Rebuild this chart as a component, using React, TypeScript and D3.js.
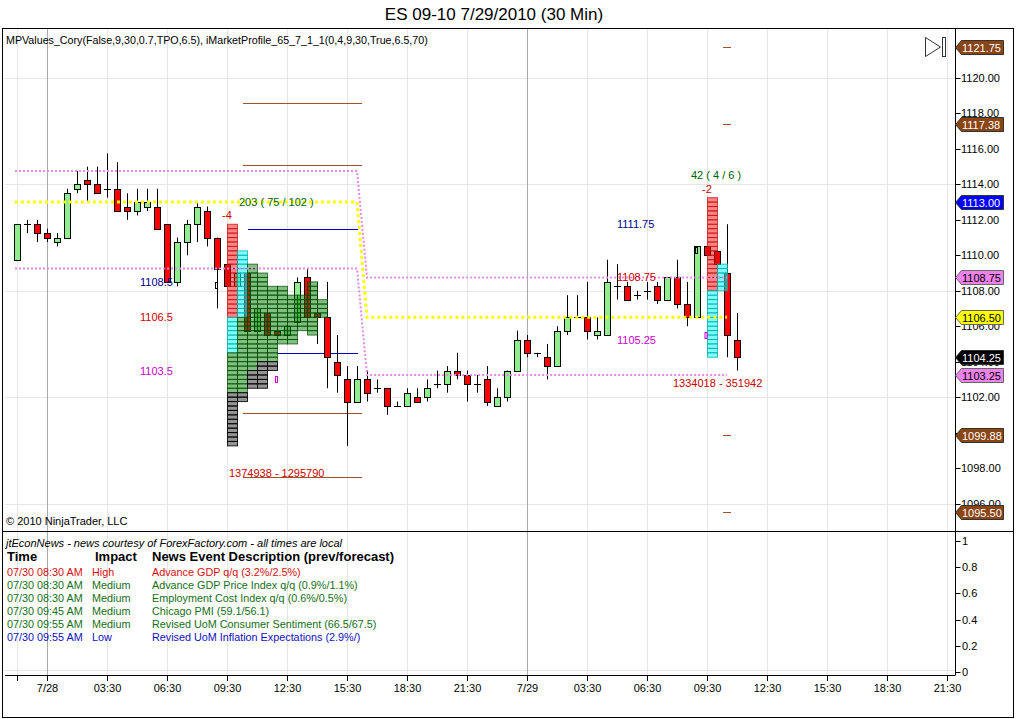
import React from 'react';
import * as d3 from 'd3';

// ---------- DATA ----------
const candleOpen = [1109.75,1111.75,1111.75,1111.25,1110.75,1111.0,1113.75,1114.25,1114.0,1113.75,1113.75,1112.75,1112.5,1112.75,1112.75,1111.75,1108.5,1110.75,1111.75,1112.5,1111.0,1109.5,1108.25,1109.0,1105.75,1106.75,1105.75,1105.5,1106.25,1108.75,1106.75,1106.5,1104.0,1103.0,1101.75,1103.0,1102.5,1102.5,1101.5,1101.5,1102.0,1102.0,1102.75,1102.75,1103.5,1103.25,1102.75,1103.0,1101.5,1102.0,1103.5,1105.25,1104.5,1104.25,1103.75,1105.75,1106.5,1106.5,1105.5,1105.5,1108.25,1108.25,1107.75,1108.0,1108.25,1107.5,1108.75,1107.25,1106.5,1110.5,1110.25,1109.0,1105.25];
const candleHigh = [1111.75,1112.0,1112.0,1111.5,1111.25,1113.75,1114.75,1115.0,1115.0,1115.75,1115.25,1113.5,1113.75,1113.75,1113.75,1111.75,1111.0,1112.0,1113.0,1112.75,1111.0,1109.5,1109.0,1109.0,1107.0,1106.75,1105.75,1106.0,1108.75,1109.25,1108.5,1108.5,1105.5,1103.75,1103.75,1103.5,1103.0,1102.5,1101.75,1102.5,1102.5,1103.0,1103.5,1103.75,1104.5,1103.5,1103.25,1103.75,1102.5,1103.5,1105.75,1105.5,1104.5,1105.0,1106.0,1107.75,1107.75,1108.5,1106.5,1109.75,1109.5,1108.5,1108.0,1108.5,1108.5,1108.75,1109.75,1108.5,1110.5,1110.5,1110.25,1111.75,1106.75];
const candleLow = [1109.75,1111.25,1110.75,1110.75,1110.5,1111.0,1113.5,1113.0,1113.5,1113.25,1112.5,1112.0,1112.25,1112.5,1111.5,1108.5,1108.25,1110.0,1110.75,1110.5,1107.0,1108.25,1108.25,1105.75,1105.75,1105.5,1105.5,1105.5,1106.25,1106.5,1105.0,1102.5,1102.25,1099.25,1101.75,1101.75,1102.25,1101.0,1101.5,1101.5,1101.75,1101.75,1102.5,1102.25,1103.0,1101.75,1102.25,1101.5,1101.5,1101.75,1103.5,1104.25,1104.25,1103.0,1103.75,1105.5,1106.5,1105.25,1105.25,1105.5,1107.5,1107.5,1107.5,1107.5,1107.25,1107.5,1107.0,1106.0,1106.5,1110.0,1109.5,1104.25,1103.5];
const candleClose = [1111.75,1111.75,1111.25,1111.0,1111.0,1113.5,1114.0,1114.0,1113.5,1113.75,1112.5,1112.5,1113.0,1113.0,1111.5,1108.5,1110.75,1111.75,1112.75,1111.0,1109.25,1108.25,1109.0,1105.75,1107.0,1105.5,1105.5,1106.0,1108.5,1106.5,1106.5,1104.25,1103.25,1101.75,1103.0,1102.25,1102.5,1101.5,1101.5,1102.25,1101.75,1102.5,1102.75,1103.5,1103.25,1102.75,1102.75,1101.75,1102.0,1103.5,1105.25,1104.5,1104.5,1103.75,1105.75,1106.5,1106.5,1105.75,1105.75,1108.5,1108.25,1107.5,1107.75,1108.0,1107.5,1108.75,1107.25,1106.5,1110.5,1110.0,1109.5,1105.5,1104.25];

const timeTickIndex = [0,3,9,15,21,27,33,39,45,51,57,63,69,75,81,87,93];
const timeTickLabel = ['','7/28','03:30','06:30','09:30','12:30','15:30','18:30','21:30','7/29','03:30','06:30','09:30','12:30','15:30','18:30','21:30'];
const daySeparatorIndex = [3, 51];
const priceTicks = [1096,1098,1100,1102,1104,1106,1108,1110,1112,1114,1116,1118,1120];
const priceGrid = [1096,1102,1108,1114,1120];
const lowerTicks = [0,0.2,0.4,0.6,0.8,1];
const lowerTickLabel = ['0','0.2','0.4','0.6','0.8','1'];

// value-area lines (bar index, price)
const vaLineIndex = [-0.2, 34, 35, 71];
const vahPrice = [1114.75, 1114.75, 1108.75, 1108.75];
const pocPrice = [1113.0, 1113.0, 1106.5, 1106.5];
const valPrice = [1109.25, 1109.25, 1103.25, 1103.25];

// day-1 brown & blue level lines
const brownLevels1 = [1118.6, 1115.1, 1101.1, 1097.5];
const blueLevels1 = [1111.5, 1104.5];
const blueStart1 = [23.1, 26];
// day-2 brown level marks
const brownLevels2 = [1121.75, 1117.38, 1099.88, 1095.5];

// TPO profiles: [kind, high, low] segments per column
const profile1Start = 21;
const profile1Cols: [string, number, number][][] = [
  [['red',1111.75,1106.5],['cyan',1106.5,1104.5],['green',1104.5,1102.25],['gray',1102.25,1099.25]],
  [['cyan',1110.25,1106.5],['green',1106.5,1102.25],['gray',1102.25,1101.75]],
  [['green',1109.5,1103.5],['gray',1103.5,1102.5]],
  [['green',1109.0,1104.0],['gray',1104.0,1102.5]],
  [['green',1108.25,1104.0],['gray',1104.0,1103.5]],
  [['green',1108.25,1105.0]],
  [['green',1107.75,1105.0]],
  [['green',1107.75,1105.75]],
  [['green',1108.5,1105.5]],
  [['green',1107.5,1106.5]],
];
const profile2Start = 69;
const profile2Cols: [string, number, number][][] = [
  [['red',1113.25,1108.0],['cyan',1108.0,1104.25]],
  [['cyan',1109.5,1108.0]],
];

// text annotations: [text, barIndex, price, kind]
const annotations: [string, number, number, string][] = [
  ['203 ( 75 / 102 )', 22.2, 1113.0, 'green'],
  ['-4', 20.5, 1112.27, 'red'],
  ['1108.5', 12.3, 1108.5, 'navy'],
  ['1106.5', 12.3, 1106.5, 'red'],
  ['1103.5', 12.3, 1103.5, 'magenta'],
  ['1374938 - 1295790', 21.2, 1097.72, 'red'],
  ['1111.75', 60, 1111.75, 'navy'],
  ['1108.75', 60, 1108.75, 'red'],
  ['1105.25', 60, 1105.25, 'magenta'],
  ['42 ( 4 / 6 )', 67.4, 1114.53, 'green'],
  ['-2', 68.5, 1113.74, 'red'],
  ['1334018 - 351942', 65.6, 1102.8, 'red'],
];

// right-axis price markers
const markerPrice = [1121.75, 1117.38, 1113.0, 1108.75, 1106.5, 1104.25, 1103.25, 1099.88, 1095.5];
const markerKind = ['brown','brown','blue','violet','yellow','black','violet','brown','brown'];

// news
const newsTime = ['07/30 08:30 AM','07/30 08:30 AM','07/30 08:30 AM','07/30 09:45 AM','07/30 09:55 AM','07/30 09:55 AM'];
const newsImpact = ['High','Medium','Medium','Medium','Medium','Low'];
const newsDesc = ['Advance GDP q/q (3.2%/2.5%)','Advance GDP Price Index q/q (0.9%/1.1%)','Employment Cost Index q/q (0.6%/0.5%)','Chicago PMI (59.1/56.1)','Revised UoM Consumer Sentiment (66.5/67.5)','Revised UoM Inflation Expectations (2.9%/)'];

// ---------- STYLES ----------
const FONT = '"Liberation Sans", Arial, sans-serif';
const textColor: Record<string, string> = {
  green: '#006400', red: '#CC0000', navy: '#00008B', magenta: '#D000D0',
};
const profileFill: Record<string, string> = {
  red: 'rgba(255,0,0,0.48)', cyan: 'rgba(0,255,255,0.5)', green: 'rgba(0,128,0,0.5)', gray: 'rgba(0,0,0,0.42)',
};
const profileStroke: Record<string, string> = {
  red: 'rgba(190,20,20,0.75)', cyan: 'rgba(0,170,170,0.75)', green: 'rgba(0,70,0,0.7)', gray: 'rgba(0,0,0,0.85)',
};
const markerFill: Record<string, string> = {
  brown: '#8B4513', blue: '#0000FF', violet: '#EE82EE', yellow: '#FFFF00', black: '#000000',
};
const markerText: Record<string, string> = {
  brown: '#FFFFFF', blue: '#FFFFFF', violet: '#000000', yellow: '#000000', black: '#FFFFFF',
};
const impactColor: Record<string, string> = { High: '#D81010', Medium: '#157015', Low: '#1010C0' };

export default function App() {
  const x = d3.scaleLinear().domain([0, 93]).range([17, 947]);
  const y = d3.scaleLinear().domain([1096, 1120]).range([503.5, 78]);
  const yl = d3.scaleLinear().domain([0, 1]).range([672, 541]);
  const axisX = 955.5;
  const line = d3.line<[number, number]>().x(d => x(d[0])).y(d => y(d[1]));
  const seg = (prices: number[]) => line(vaLineIndex.map((v, i) => [v, prices[i]] as [number, number])) || '';

  const renderProfile = (cols: [string, number, number][][], start: number, key: string) => {
    const cells: JSX.Element[] = [];
    cols.forEach((col, c) => {
      col.forEach(([kind, hi, lo], s) => {
        for (let p = hi; p > lo + 0.01; p -= 0.25) {
          const y0 = y(p), y1 = y(p - 0.25);
          cells.push(
            <rect key={`${key}-${c}-${s}-${p}`} x={x(start + c) + 0.5} y={y0} width={10} height={y1 - y0}
              fill={profileFill[kind]} stroke={profileStroke[kind]} strokeWidth={1} />
          );
        }
      });
    });
    return cells;
  };

  return (
    <svg width={1016} height={719} style={{ position: 'absolute', left: 0, top: 0, background: '#fff' }} fontFamily={FONT}>
      <rect x={0} y={0} width={1016} height={719} fill="#fff" />
      {/* title */}
      <text x={494} y={14} textAnchor="middle" dominantBaseline="central" fontSize={17} fill="#000">ES 09-10  7/29/2010 (30 Min)</text>

      {/* grid */}
      {priceGrid.map(p => (
        <line key={'hg' + p} x1={5} x2={axisX} y1={Math.round(y(p)) + 0.5} y2={Math.round(y(p)) + 0.5} stroke="#E6E6E6" />
      ))}
      <line x1={5} x2={axisX} y1={yl(0) - 1.5} y2={yl(0) - 1.5} stroke="#E6E6E6" />
      {timeTickIndex.map((t, i) => (
        <line key={'vg' + i} x1={x(t) + 0.5} x2={x(t) + 0.5} y1={28} y2={675}
          stroke={daySeparatorIndex.includes(t) ? '#ABABAB' : '#E6E6E6'} />
      ))}

      {/* header text */}
      <text x={6} y={40} dominantBaseline="central" fontSize={10.7} fill="#000">MPValues_Cory(False,9,30,0.7,TPO,6.5), iMarketProfile_65_7_1_1(0,4,9,30,True,6.5,70)</text>

      {/* day-1 brown & blue level lines */}
      {brownLevels1.map(p => (
        <line key={'b1' + p} x1={x(22.6)} x2={x(34.5)} y1={Math.round(y(p)) + 0.5} y2={Math.round(y(p)) + 0.5} stroke="#A0522D" />
      ))}
      {blueLevels1.map((p, i) => (
        <line key={'bl' + p} x1={x(blueStart1[i])} x2={x(34.1)} y1={Math.round(y(p)) + 0.5} y2={Math.round(y(p)) + 0.5} stroke="#0000CD" />
      ))}
      {brownLevels2.map(p => (
        <line key={'b2' + p} x1={x(70.6)} x2={x(71.4)} y1={Math.round(y(p)) + 0.5} y2={Math.round(y(p)) + 0.5} stroke="#A0522D" />
      ))}

      {/* candles */}
      {candleOpen.map((o, i) => {
        const c = candleClose[i];
        const cx = Math.round(x(i)) + 0.5;
        const top = Math.round(y(Math.max(o, c))) + 0.5;
        const bot = Math.round(y(Math.min(o, c))) + 0.5;
        const up = c > o;
        return (
          <g key={'c' + i}>
            <line x1={cx} x2={cx} y1={y(candleHigh[i])} y2={y(candleLow[i])} stroke="#000" />
            {bot - top < 1 ? (
              <line x1={cx - 3.5} x2={cx + 3.5} y1={top} y2={top} stroke="#000" />
            ) : (
              <rect x={cx - 3} y={top} width={6} height={bot - top} fill={up ? '#90EE90' : '#FF0000'} stroke="#000" />
            )}
          </g>
        );
      })}

      {/* small markers */}
      <rect x={215.5} y={282.5} width={2} height={6} fill="#fff" stroke="#000" />
      <rect x={695.5} y={247.5} width={2} height={6} fill="none" stroke="#000" />

      {/* profiles */}
      {renderProfile(profile1Cols, profile1Start, 'p1')}
      {renderProfile(profile2Cols, profile2Start, 'p2')}
      <rect x={275.5} y={376.5} width={2} height={6} fill="none" stroke="#D000D0" />
      <rect x={705} y={332.5} width={2} height={6} fill="none" stroke="#D000D0" />

      {/* value area lines */}
      <path d={seg(vahPrice)} fill="none" stroke="#E48BE4" strokeWidth={2} strokeDasharray="2,2" />
      <path d={seg(valPrice)} fill="none" stroke="#E48BE4" strokeWidth={2} strokeDasharray="2,2" />
      <path d={seg(pocPrice)} fill="none" stroke="#FFFF00" strokeWidth={3} strokeDasharray="3,3" />

      {/* annotations */}
      {annotations.map(([t, bi, p, k], i) => (
        <text key={'a' + i} x={x(bi)} y={y(p)} dominantBaseline="central" fontSize={11} fill={textColor[k]}>{t}</text>
      ))}

      <text x={6} y={521} dominantBaseline="central" fontSize={11} fill="#000">© 2010 NinjaTrader, LLC</text>

      {/* play icon */}
      <path d="M925.5,37.5 L940.5,47 L925.5,56.5 Z" fill="none" stroke="#333" />
      <rect x={942.5} y={37.5} width={3} height={19} fill="none" stroke="#333" />

      {/* price axis */}
      <line x1={axisX} x2={axisX} y1={28} y2={675} stroke="#000" />
      {priceTicks.map(p => (
        <g key={'pt' + p}>
          <line x1={axisX} x2={axisX + 5} y1={Math.round(y(p)) + 0.5} y2={Math.round(y(p)) + 0.5} stroke="#000" />
          <text x={961} y={y(p)} dominantBaseline="central" fontSize={11} fill="#000">{p.toFixed(2)}</text>
        </g>
      ))}
      {markerPrice.map((p, i) => {
        const yy = Math.round(y(p)) + 0.5;
        const k = markerKind[i];
        return (
          <g key={'m' + i}>
            <path d={`M${axisX},${yy} L${axisX + 6},${yy - 7} L1003.5,${yy - 7} L1003.5,${yy + 7} L${axisX + 6},${yy + 7} Z`}
              fill={markerFill[k]} stroke={k === 'yellow' || k === 'violet' ? '#666' : '#333'} />
            <text x={962} y={yy} dominantBaseline="central" fontSize={11} fill={markerText[k]}>{p.toFixed(2)}</text>
          </g>
        );
      })}

      {/* lower panel axis */}
      {lowerTicks.map((v, i) => (
        <g key={'lt' + i}>
          <line x1={axisX} x2={axisX + 5} y1={Math.round(yl(v)) + 0.5} y2={Math.round(yl(v)) + 0.5} stroke="#000" />
          <text x={962} y={yl(v)} dominantBaseline="central" fontSize={11} fill="#000">{lowerTickLabel[i]}</text>
        </g>
      ))}

      {/* news panel */}
      <text x={6} y={543} dominantBaseline="central" fontSize={11} fontStyle="italic" fill="#000">jtEconNews - news courtesy of ForexFactory.com - all times are local</text>
      <text x={7} y={556} dominantBaseline="central" fontSize={13} fontWeight="bold" fill="#000">Time</text>
      <text x={95} y={556} dominantBaseline="central" fontSize={13} fontWeight="bold" fill="#000">Impact</text>
      <text x={152} y={556} dominantBaseline="central" fontSize={13} fontWeight="bold" fill="#000">News Event Description (prev/forecast)</text>
      {newsTime.map((t, i) => {
        const yy = 571.5 + i * 13;
        const col = impactColor[newsImpact[i]];
        return (
          <g key={'n' + i}>
            <text x={7} y={yy} dominantBaseline="central" fontSize={10.8} fill={col}>{t}</text>
            <text x={92} y={yy} dominantBaseline="central" fontSize={10.8} fill={col}>{newsImpact[i]}</text>
            <text x={152} y={yy} dominantBaseline="central" fontSize={10.8} fill={col}>{newsDesc[i]}</text>
          </g>
        );
      })}

      {/* time axis */}
      <line x1={5} x2={axisX} y1={675.5} y2={675.5} stroke="#000" />
      {timeTickIndex.map((t, i) => (
        <g key={'tt' + i}>
          <line x1={x(t) + 0.5} x2={x(t) + 0.5} y1={675} y2={681} stroke="#000" />
          <text x={x(t) + 0.5} y={688} textAnchor="middle" dominantBaseline="central" fontSize={11} fill="#000">{timeTickLabel[i]}</text>
        </g>
      ))}

      {/* frames */}
      <line x1={2} x2={1014} y1={28.5} y2={28.5} stroke="#000" />
      <line x1={2} x2={1014} y1={531.5} y2={531.5} stroke="#000" />
      <line x1={2.5} x2={2.5} y1={28} y2={718} stroke="#000" />
      <line x1={1013.5} x2={1013.5} y1={28} y2={718} stroke="#000" />
      <line x1={2} x2={1014} y1={717.5} y2={717.5} stroke="#000" />
    </svg>
  );
}
